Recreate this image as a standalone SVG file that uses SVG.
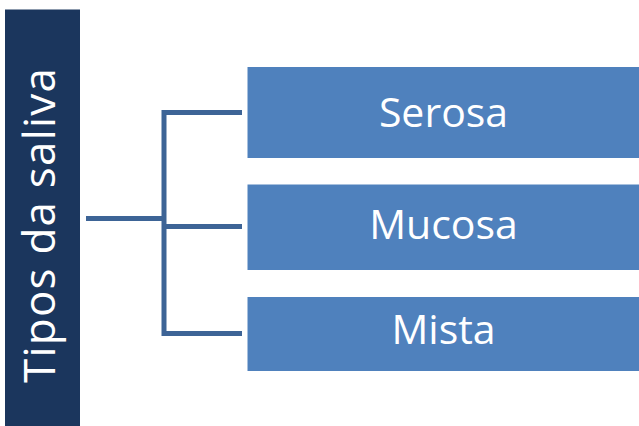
<svg xmlns="http://www.w3.org/2000/svg" width="639" height="426" viewBox="0 0 639 426">
  <style>
    .box { fill: #4f81bd; stroke: #ffffff; stroke-width: 1; }
    .label { font-family: "Open Sans", "Liberation Sans", sans-serif; font-size: 41px; fill: #ffffff; text-anchor: middle; }
    .title { font-size: 44px; }
    .conn { fill: none; stroke: #3d6496; stroke-width: 5; stroke-linejoin: miter; stroke-linecap: butt; }
  </style>
  <rect width="639" height="426" fill="#ffffff"/>

  <g id="root">
    <rect x="5" y="9.5" width="75" height="417" fill="#1b365d"/>
    <text class="label title" transform="translate(55 225.5) rotate(-90)" x="0" y="0" textLength="315" lengthAdjust="spacing">Tipos da saliva</text>
  </g>

  <g id="connectors">
    <path class="conn" d="M86 218.5 H164"/>
    <path class="conn" d="M242 112.5 H164 V333.5 H242"/>
    <path class="conn" d="M164 226.5 H242"/>
  </g>

  <g id="serosa">
    <rect class="box" x="247" y="66.5" width="393" height="92"/>
    <text class="label" x="443.5" y="126.5">Serosa</text>
  </g>

  <g id="mucosa">
    <rect class="box" x="247" y="184" width="393" height="86.5"/>
    <text class="label" x="443.5" y="238.5">Mucosa</text>
  </g>

  <g id="mista">
    <rect class="box" x="247" y="296.5" width="393" height="75"/>
    <text class="label" x="443.5" y="343.5">Mista</text>
  </g>
</svg>
